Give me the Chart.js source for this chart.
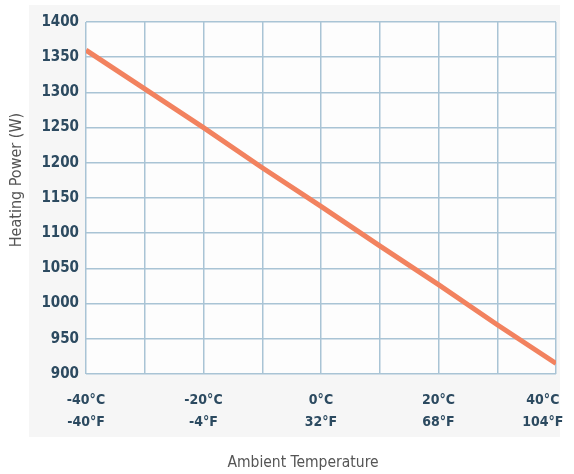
<!DOCTYPE html>
<html>
<head>
<meta charset="utf-8">
<script src="https://cdn.jsdelivr.net/npm/chart.js@4/dist/chart.umd.min.js"></script>
<style>
  html, body { margin: 0; padding: 0; background: #ffffff; }
  #wrap { width: 574px; height: 474px; position: relative; }
</style>
</head>
<body>
<div id="wrap"><canvas id="heat-chart"></canvas></div>
<script>
// ambient temperature (°C) read at every vertical grid line
const tempC = [-40, -30, -20, -10, 0, 10, 20, 30, 40];
// heating power (W)
const powerW = [1360, 1305, 1250, 1193, 1138, 1082, 1027, 970, 915];

// labelled x ticks, celsius and fahrenheit lines
const tickC = [-40, -20, 0, 20, 40];
const tickF = ['-40°F', '-4°F', '32°F', '68°F', '104°F'];

const xTitle = 'Ambient Temperature';
const yTitle = 'Heating Power (W)';

const gridColor = '#a9c4d5';
const tickColor = '#2c4a60';
const titleColor = '#555555';

// light panel behind the whole plot + near-white plot area
const panelBg = {
    id: 'panelBg',
    beforeDraw(chart) {
        const {ctx, chartArea} = chart;
        ctx.save();
        ctx.fillStyle = '#f6f6f6';
        ctx.fillRect(chartArea.left - 57, chartArea.top - 17,
            chartArea.right - chartArea.left + 61, chartArea.bottom - chartArea.top + 80);
        ctx.fillStyle = '#fdfdfd';
        ctx.fillRect(chartArea.left, chartArea.top,
            chartArea.right - chartArea.left, chartArea.bottom - chartArea.top);
        ctx.restore();
    }
};

// axis titles sit off-centre in the original, so they are drawn here
const axisTitles = {
    id: 'axisTitles',
    afterDraw(chart) {
        const {ctx, chartArea} = chart;
        const midX = (chartArea.left + chartArea.right) / 2;
        const midY = (chartArea.top + chartArea.bottom) / 2;
        ctx.save();
        ctx.fillStyle = titleColor;
        ctx.textAlign = 'center';
        ctx.textBaseline = 'middle';
        ctx.font = '15.5px "DejaVu Sans Condensed"';
        ctx.fillText(xTitle, midX - 18, chart.height - 11);
        ctx.translate(17, midY - 18);
        ctx.rotate(-Math.PI / 2);
        ctx.font = '16px "DejaVu Sans Condensed"';
        ctx.fillText(yTitle, 0, 0);
        ctx.restore();
    }
};

const ctx = document.getElementById('heat-chart').getContext('2d');

let lineChart = new Chart(ctx, {
    type: 'line',
    data: {
        datasets: [{
            data: tempC.map((t, i) => ({x: t, y: powerW[i]})),
            borderColor: '#f2825f',
            borderWidth: 5,
            pointRadius: 0,
            tension: 0,
            borderCapStyle: 'butt'
        }]
    },
    options: {
        responsive: true,
        maintainAspectRatio: false,
        animation: false,
        layout: { padding: { top: 22, right: 18, bottom: 0, left: 0 } },
        plugins: {
            legend: { display: false },
            tooltip: { enabled: false }
        },
        scales: {
            x: {
                type: 'linear',
                min: -40,
                max: 40,
                afterFit(scale) {
                    scale.height = 100;
                    scale.paddingLeft = 0;
                    scale.paddingRight = 0;
                },
                grid: { color: gridColor, lineWidth: 1.5, drawTicks: false },
                border: { display: false },
                ticks: {
                    stepSize: 10,
                    padding: 15,
                    color: tickColor,
                    maxRotation: 0,
                    autoSkip: false,
                    font: { family: 'DejaVu Sans Condensed', weight: 'bold', size: 14, lineHeight: 1.57 },
                    callback: function(value) {
                        const i = tickC.indexOf(value);
                        if (i < 0) return '';
                        // last label is pulled inwards so it stays on the canvas
                        const pad = i === tickC.length - 1 ? '      ' : '';
                        return [tickC[i] + '°C' + pad, tickF[i] + pad];
                    }
                }
            },
            y: {
                min: 900,
                max: 1400,
                afterFit(scale) { scale.width = 86; },
                grid: { color: gridColor, lineWidth: 1.5, drawTicks: false },
                border: { display: false },
                ticks: {
                    stepSize: 50,
                    padding: 7,
                    color: tickColor,
                    font: { family: 'DejaVu Sans Condensed', weight: 'bold', size: 15 },
                    callback: value => String(value)
                }
            }
        }
    },
    plugins: [panelBg, axisTitles]
});
</script>
</body>
</html>
